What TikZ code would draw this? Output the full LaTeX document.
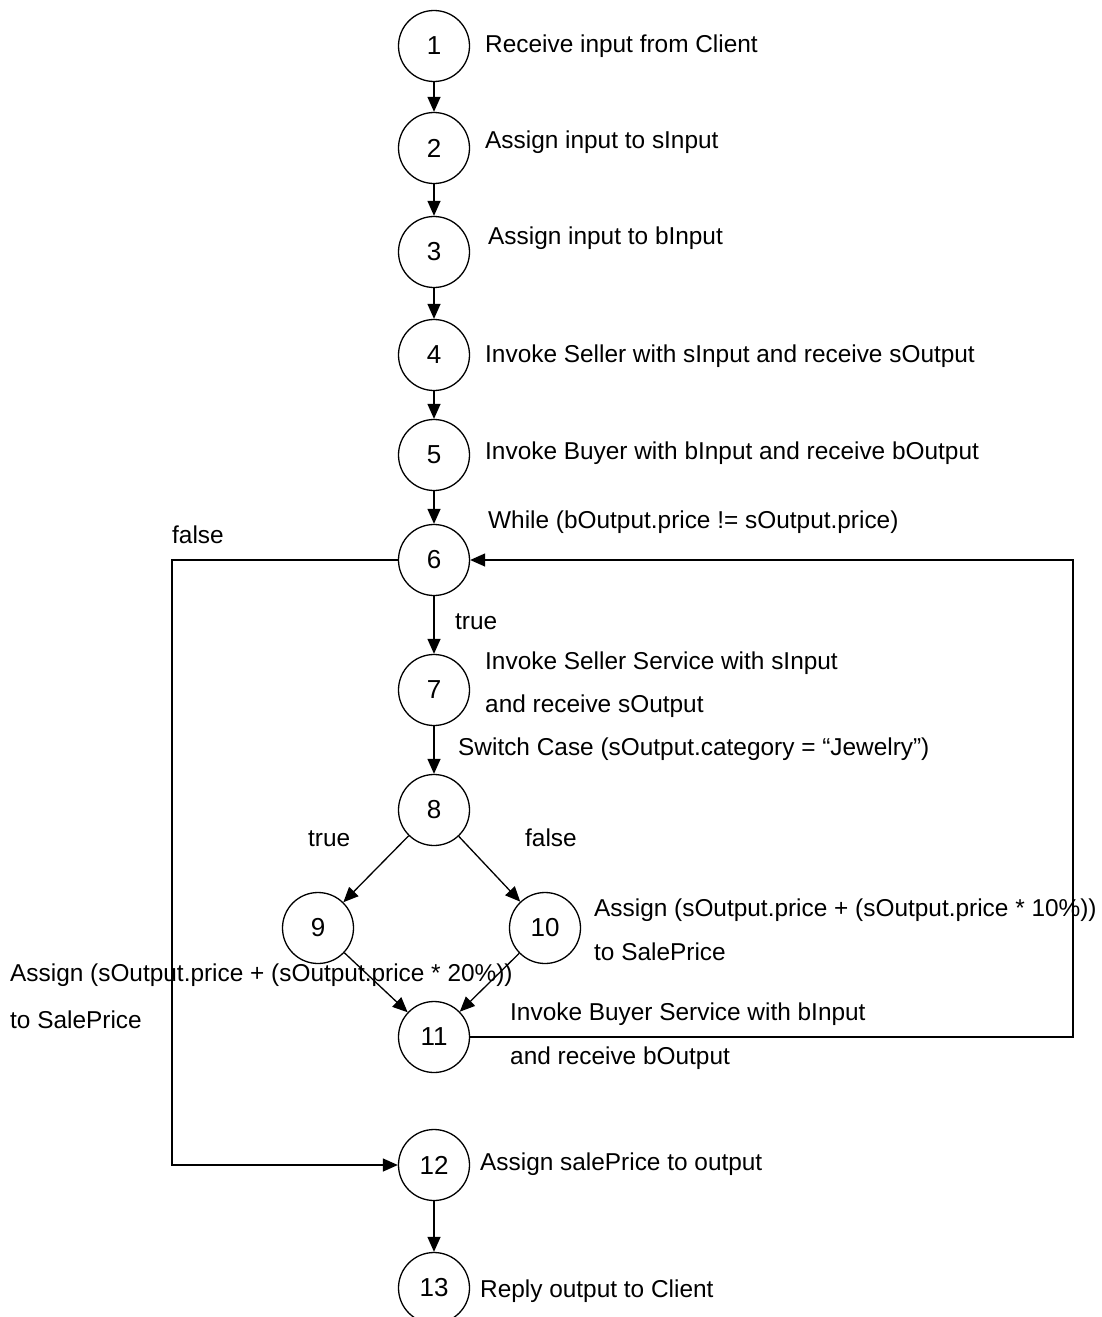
\documentclass[tikz,border=0pt]{standalone}
\usepackage{fontspec}
\setmainfont{Liberation Sans}
\usetikzlibrary{arrows.meta}
\begin{document}
\begin{tikzpicture}[x=1pt,y=-1pt,
  st/.style={circle,draw,line width=1.3pt,minimum size=71pt,inner sep=0pt,font=\fontsize{26}{30}\selectfont},
  lbl/.style={anchor=west,inner sep=0pt,text height=18pt,text depth=0pt,font=\fontsize{24.4}{30}\selectfont},
  flow/.style={line width=1.3pt,-{Triangle[length=15pt,width=13pt]}},
  plain/.style={line width=1.3pt}]
\useasboundingbox[fill=white] (0,0) rectangle (1102,1317);
\node[st] (n1) at (434,46) {1};
\node[st] (n2) at (434,148) {2};
\node[st] (n3) at (434,252) {3};
\node[st] (n4) at (434,355) {4};
\node[st] (n5) at (434,455) {5};
\node[st] (n6) at (434,560) {6};
\node[st] (n7) at (434,690) {7};
\node[st] (n8) at (434,810) {8};
\node[st] (n9) at (318,928) {9};
\node[st] (n10) at (545,928) {10};
\node[st] (n11) at (434,1037) {11};
\node[st] (n12) at (434,1165) {12};
\node[st] (n13) at (434,1288) {13};
\draw[flow] (n1) -- (n2);
\draw[flow] (n2) -- (n3);
\draw[flow] (n3) -- (n4);
\draw[flow] (n4) -- (n5);
\draw[flow] (n5) -- (n6);
\draw[flow] (n6) -- (n7);
\draw[flow] (n7) -- (n8);
\draw[flow] (n8) -- (n9);
\draw[flow] (n8) -- (n10);
\draw[flow] (n9) -- (n11);
\draw[flow] (n10) -- (n11);
\draw[flow] (n12) -- (n13);
\coordinate (lc) at (172,900);
\coordinate (rc) at (1073,800);
\draw[flow] (n6.west) -| (lc) |- (n12.west);
\draw[flow] (n11.east) -| (rc) |- (n6.east);
\node[lbl] (t1) at (485,43) {Receive input from Client};
\node[lbl] (t2) at (485,139) {Assign input to sInput};
\node[lbl] (t3) at (488,235) {Assign input to bInput};
\node[lbl] (t4) at (485,353) {Invoke Seller with sInput and receive sOutput};
\node[lbl] (t5) at (485,450) {Invoke Buyer with bInput and receive bOutput};
\node[lbl] (t6) at (488,519) {While (bOutput.price != sOutput.price)};
\node[lbl] (f6) at (172,534) {false};
\node[lbl] (tr6) at (455,620) {true};
\node[lbl] (t7a) at (485,660) {Invoke Seller Service with sInput};
\node[lbl] (t7b) at (485,703) {and receive sOutput};
\node[lbl] (t8) at (458,746) {Switch Case (sOutput.category = “Jewelry”)};
\node[lbl] (tr8) at (308,837) {true};
\node[lbl] (f8) at (525,837) {false};
\node[lbl] (t10a) at (594,907) {Assign (sOutput.price + (sOutput.price * 10\%))};
\node[lbl] (t10b) at (594,951) {to SalePrice};
\node[lbl] (t9a) at (10,972) {Assign (sOutput.price + (sOutput.price * 20\%))};
\node[lbl] (t9b) at (10,1019) {to SalePrice};
\node[lbl] (t11a) at (510,1011) {Invoke Buyer Service with bInput};
\node[lbl] (t11b) at (510,1055) {and receive bOutput};
\node[lbl] (t12) at (480,1161) {Assign salePrice to output};
\node[lbl] (t13) at (480,1288) {Reply output to Client};
\end{tikzpicture}
\end{document}
